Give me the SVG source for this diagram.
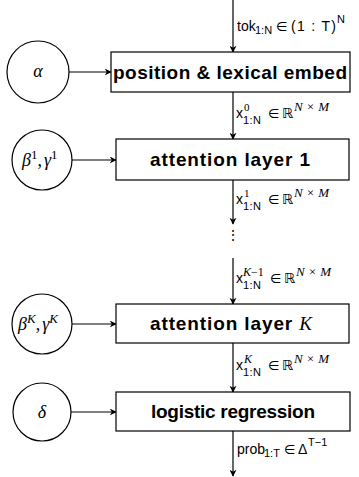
<svg xmlns="http://www.w3.org/2000/svg" width="359" height="477" viewBox="0 0 359 477">
<defs>
<marker id="ah" viewBox="0 0 10 10" refX="9" refY="5" markerWidth="7" markerHeight="7" markerUnits="userSpaceOnUse" orient="auto">
<path d="M0,0 L10,5 L0,10 L3,5 Z" fill="#000"/>
</marker>
</defs>
<style>
.box{fill:#fff;stroke:#000;stroke-width:1.2}
.circ{fill:#fff;stroke:#000;stroke-width:1.2}
.edge{stroke:#000;stroke-width:1.2;fill:none;marker-end:url(#ah)}
.bt{font-family:"Liberation Sans",Arial,sans-serif;font-weight:bold;font-size:19px}
.lab{font-family:"Liberation Sans",Arial,sans-serif;font-size:14px}
.sub{font-family:"Liberation Sans",Arial,sans-serif;font-size:11px}
.rel{font-family:"DejaVu Sans",sans-serif;font-size:13px}
.bb{font-family:"DejaVu Sans",sans-serif;font-size:14px}
.mi{font-family:"Liberation Serif","DejaVu Serif",serif;font-style:italic}
.rm{font-family:"Liberation Serif","DejaVu Serif",serif}
.ct{font-family:"Liberation Serif","DejaVu Serif",serif;font-style:italic;font-size:18px}
</style>
<g id="connectors">
<line class="edge" x1="233" y1="0" x2="233" y2="52"/>
<line class="edge" x1="69" y1="72" x2="111" y2="72"/>
<line class="edge" x1="233" y1="92" x2="233" y2="139"/>
<line class="edge" x1="72" y1="160" x2="116" y2="160"/>
<line class="edge" x1="233" y1="180" x2="233" y2="224"/>
<line class="edge" x1="233" y1="258" x2="233" y2="304"/>
<line class="edge" x1="72" y1="324" x2="116" y2="324"/>
<line class="edge" x1="233" y1="343" x2="233" y2="392"/>
<line class="edge" x1="71" y1="412" x2="116" y2="412"/>
<line class="edge" x1="233" y1="431" x2="233" y2="476"/>
<g id="lbl-tok">
<text class="lab" x="237" y="31">tok</text>
<text class="sub" x="255" y="34" font-size="10">1:N</text>
<text class="rel" x="276" y="31">∈</text>
<text class="lab" x="291" y="31" textLength="45">(1 : T)</text>
<text class="sub" x="337" y="23">N</text>
</g>
<g id="lbl-x0">
<text class="lab" x="236" y="118">x</text>
<text class="sub" x="243" y="124" textLength="18">1:N</text>
<text class="sub rm" x="244" y="111">0</text>
<text class="rel" x="268" y="118">∈</text>
<text class="bb" x="282" y="118">ℝ</text>
<text class="mi" x="294" y="111" font-size="13" textLength="35">N×M</text>
</g>
<g id="lbl-x1">
<text class="lab" x="236" y="204">x</text>
<text class="sub" x="243" y="210" textLength="18">1:N</text>
<text class="sub rm" x="244" y="197">1</text>
<text class="rel" x="268" y="204">∈</text>
<text class="bb" x="282" y="204">ℝ</text>
<text class="mi" x="294" y="197" font-size="13" textLength="35">N×M</text>
</g>
<text class="lab" x="233" y="240" text-anchor="middle" font-size="12">⋮</text>
<g id="lbl-xk1">
<text class="lab" x="236" y="283">x</text>
<text class="sub" x="243" y="289" textLength="18">1:N</text>
<text class="mi" x="243" y="276" font-size="12">K<tspan class="rm" font-style="normal">−1</tspan></text>
<text class="rel" x="270" y="283">∈</text>
<text class="bb" x="284" y="283">ℝ</text>
<text class="mi" x="296" y="276" font-size="13" textLength="35">N×M</text>
</g>
<g id="lbl-xk">
<text class="lab" x="236" y="370">x</text>
<text class="sub" x="243" y="376" textLength="18">1:N</text>
<text class="mi" x="244" y="363" font-size="12">K</text>
<text class="rel" x="268" y="370">∈</text>
<text class="bb" x="282" y="370">ℝ</text>
<text class="mi" x="294" y="363" font-size="13" textLength="35">N×M</text>
</g>
<g id="lbl-prob">
<text class="lab" x="237" y="454">prob</text>
<text class="sub" x="264" y="457" font-size="10">1:T</text>
<text class="rel" x="284" y="454">∈</text>
<text class="lab" x="298" y="454">Δ</text>
<text class="sub" x="308" y="446">T−1</text>
</g>
</g>
<g id="embed">
<rect class="box" x="111" y="52" width="239" height="40"/>
<text class="bt" x="113" y="79" textLength="234">position &amp; lexical embed</text>
</g>
<g id="alpha">
<circle class="circ" cx="38" cy="72" r="31"/>
<text class="ct" x="38" y="77" text-anchor="middle" font-size="17">α</text>
</g>
<g id="layer1">
<rect class="box" x="116" y="139" width="233" height="41"/>
<text class="bt" x="150" y="166" textLength="160">attention layer 1</text>
</g>
<g id="beta1">
<circle class="circ" cx="42" cy="160" r="30"/>
<text class="ct" x="22" y="166">β<tspan class="rm" font-style="normal" font-size="13" dy="-7">1</tspan><tspan class="rm" font-style="normal" dy="7">,</tspan><tspan dx="2">γ</tspan><tspan class="rm" font-style="normal" font-size="13" dy="-7">1</tspan></text>
</g>
<g id="layerK">
<rect class="box" x="116" y="304" width="233" height="39"/>
<text class="bt" x="150" y="330" textLength="162">attention layer <tspan class="mi" font-weight="normal" font-size="19">K</tspan></text>
</g>
<g id="betaK">
<circle class="circ" cx="42" cy="324" r="30"/>
<text class="ct" x="18" y="330">β<tspan font-size="13" dy="-7">K</tspan><tspan class="rm" font-style="normal" dy="7">,</tspan><tspan dx="2">γ</tspan><tspan font-size="13" dy="-7">K</tspan></text>
</g>
<g id="logreg">
<rect class="box" x="116" y="392" width="234" height="39"/>
<text class="bt" x="151" y="418" textLength="164">logistic regression</text>
</g>
<g id="delta">
<circle class="circ" cx="42" cy="412" r="29"/>
<text class="ct" x="42" y="418" text-anchor="middle" font-size="17">δ</text>
</g>
</svg>
